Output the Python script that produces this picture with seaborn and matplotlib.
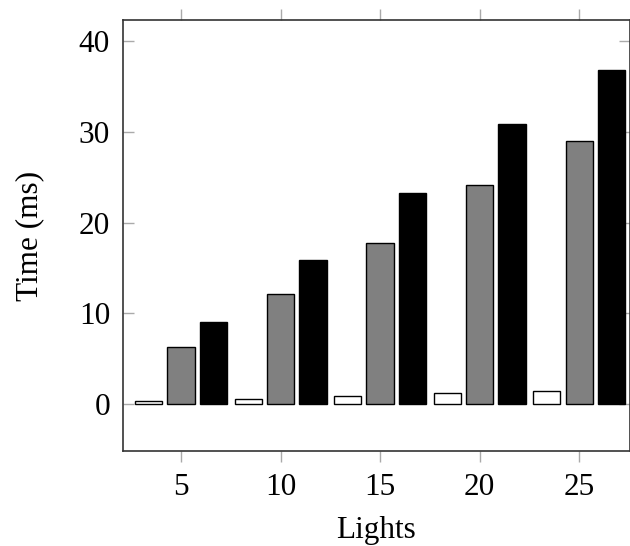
import matplotlib
matplotlib.use("Agg")
import matplotlib.pyplot as plt
import seaborn as sns
import pandas as pd

lights = [5, 10, 15, 20, 25]
series_names = ["Series 1", "Series 2", "Series 3"]
series1 = [0.3, 0.6, 0.85, 1.2, 1.45]
series2 = [6.3, 12.15, 17.8, 24.2, 29.05]
series3 = [9.0, 15.85, 23.3, 30.85, 36.8]
colors = ["#ffffff", "#808080", "#000000"]
y_ticks = [0, 10, 20, 30, 40]

rows = []
for name, vals in zip(series_names, [series1, series2, series3]):
    for l, v in zip(lights, vals):
        rows.append({"Lights": l, "series": name, "Time": v})
df = pd.DataFrame(rows)

sns.set_theme(style="white")
plt.rcParams["font.family"] = ["Liberation Serif", "DejaVu Serif"]

fig = plt.figure(figsize=(6.3, 5.46), dpi=100)
ax = fig.add_axes([122.5 / 630, (546 - 451) / 546, 507.5 / 630, (451 - 20) / 546])

sns.barplot(data=df, x="Lights", y="Time", hue="series", hue_order=series_names,
            palette=colors, native_scale=True, width=0.978, gap=0.165,
            edgecolor="black", linewidth=1.0, saturation=1, legend=False, ax=ax, errorbar=None)

ax.set_xlim(2.06, 27.56)
ax.set_ylim(-5.18, 42.34)
ax.set_xticks(lights)
ax.set_xticklabels([str(v) for v in lights])
ax.set_yticks(y_ticks)
ax.set_yticklabels([str(v) for v in y_ticks])

ax.tick_params(axis="x", direction="out", length=8, width=1, color="#aaaaaa",
               top=True, bottom=True, labelsize=22.5, pad=8, labelcolor="black")
ax.tick_params(axis="y", direction="in", length=8, width=1, color="#aaaaaa",
               left=True, right=True, labelsize=22.5, pad=9, labelcolor="black")

for sp in ax.spines.values():
    sp.set_visible(True)
    sp.set_color("#333333")
    sp.set_linewidth(1.2)

ax.set_xlabel("Lights", fontsize=22.5, labelpad=10, color="black")
ax.set_ylabel("Time (ms)", fontsize=22.5, labelpad=25, color="black")
ax.grid(False)

fig.savefig("out.png", dpi=100)
